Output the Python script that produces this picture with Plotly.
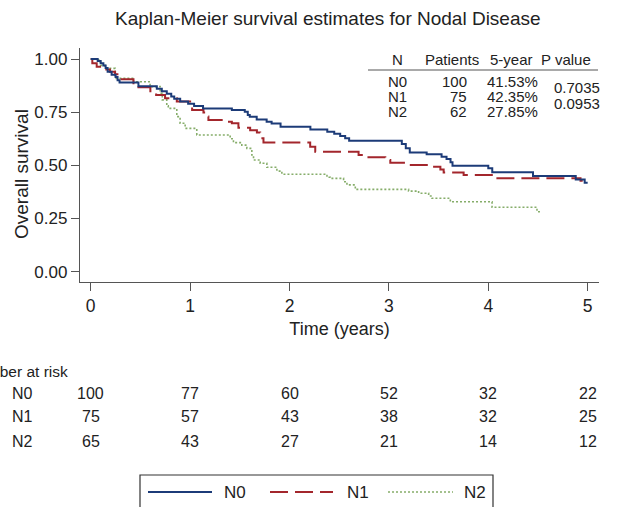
import plotly.graph_objects as go

# ---------------- data ----------------
groups = ["N0", "N1", "N2"]

n0_t = [0, 0.07, 0.10, 0.127, 0.15, 0.17, 0.21, 0.25, 0.27, 0.29, 0.48, 0.665, 0.715, 0.765,
        0.81, 0.84, 0.90, 0.98, 1.04, 1.13, 1.42, 1.55, 1.58, 1.60, 1.67, 1.77, 1.82, 1.91,
        2.21, 2.38, 2.45, 2.51, 2.56, 2.60, 3.13, 3.17, 3.21, 3.38, 3.53, 3.58, 3.62, 3.64,
        4.00, 4.04, 4.45, 4.88, 4.97, 5.00]
n0_s = [1.0, 0.99, 0.98, 0.97, 0.958, 0.94, 0.926, 0.915, 0.90, 0.89, 0.872, 0.86, 0.848, 0.837,
        0.824, 0.813, 0.80, 0.79, 0.779, 0.767, 0.76, 0.752, 0.737, 0.729, 0.716, 0.705, 0.697, 0.682,
        0.669, 0.658, 0.648, 0.638, 0.627, 0.616, 0.60, 0.58, 0.561, 0.552, 0.541, 0.53, 0.514, 0.498,
        0.486, 0.467, 0.45, 0.434, 0.418, 0.418]

n1_t = [0, 0.016, 0.06, 0.144, 0.194, 0.245, 0.295, 0.43, 0.48, 0.60, 0.658, 0.748, 0.866, 1.0,
        1.02, 1.134, 1.16, 1.184, 1.36, 1.42, 1.486, 1.604, 1.672, 1.705, 1.738, 2.208, 2.259,
        2.695, 2.755, 2.964, 3.014, 3.198, 3.417, 3.518, 3.551, 3.752, 4.054, 4.928, 4.95]
n1_s = [1.0, 0.98, 0.964, 0.951, 0.94, 0.928, 0.905, 0.886, 0.867, 0.848, 0.831, 0.815, 0.80, 0.776,
        0.76, 0.748, 0.73, 0.713, 0.705, 0.698, 0.677, 0.665, 0.655, 0.627, 0.608, 0.588, 0.564,
        0.549, 0.538, 0.525, 0.512, 0.502, 0.494, 0.48, 0.466, 0.455, 0.439, 0.428, 0.428]

n2_t = [0, 0.08, 0.10, 0.144, 0.246, 0.43, 0.597, 0.698, 0.72, 0.765, 0.78, 0.866, 0.899, 0.95,
        1.067, 1.403, 1.436, 1.52, 1.571, 1.621, 1.638, 1.705, 1.772, 1.873, 1.923, 2.377, 2.41,
        2.544, 2.578, 2.662, 3.198, 3.299, 3.40, 3.434, 3.618, 4.038, 4.49, 4.52]
n2_s = [1.0, 0.985, 0.97, 0.956, 0.909, 0.893, 0.87, 0.839, 0.808, 0.78, 0.768, 0.729, 0.698, 0.674,
        0.643, 0.625, 0.607, 0.595, 0.58, 0.549, 0.525, 0.51, 0.491, 0.473, 0.458, 0.444, 0.439,
        0.423, 0.408, 0.387, 0.379, 0.369, 0.356, 0.345, 0.329, 0.303, 0.282, 0.282]

patients = ["100", "75", "62"]
five_year = ["41.53%", "42.35%", "27.85%"]
p_values = ["0.7035", "0.0953"]

risk_times = [0, 1, 2, 3, 4, 5]
risk_n0 = [100, 77, 60, 52, 32, 22]
risk_n1 = [75, 57, 43, 38, 32, 25]
risk_n2 = [65, 43, 27, 21, 14, 12]

x_ticks = [0, 1, 2, 3, 4, 5]
y_ticks = [0, 0.25, 0.5, 0.75, 1.0]
y_tick_labels = ["0.00", "0.25", "0.50", "0.75", "1.00"]

# ---------------- styling ----------------
W, H = 618, 507
ML, MR, MT, MB = 80, 19, 48, 225
FONT = "Liberation Sans, Arial, Helvetica, sans-serif"
TXT = "#222222"
colors = {"N0": "#1c3b78", "N1": "#a3262c", "N2": "#86ad6a"}
dashes = {"N0": "solid", "N1": "18px,7px", "N2": "2px,2px"}
widths = {"N0": 2, "N1": 2, "N2": 1.6}

pw = W - ML - MR
ph = H - MT - MB


def pxp(px):
    return (px - ML) / pw


def pyp(py):
    return (H - MB - py) / ph


fig = go.Figure()
series = {"N0": (n0_t, n0_s), "N1": (n1_t, n1_s), "N2": (n2_t, n2_s)}
for g in ["N2", "N1", "N0"]:
    t, s = series[g]
    fig.add_trace(go.Scatter(x=t, y=s, mode="lines", name=g, line_shape="hv",
                             line=dict(color=colors[g], width=widths[g], dash=dashes[g]),
                             showlegend=False, hoverinfo="skip"))

annotations = []
shapes = []

# title
annotations.append(dict(text="Kaplan-Meier survival estimates for Nodal Disease", x=pxp(328), y=pyp(18),
                        xref="paper", yref="paper", showarrow=False, xanchor="center", yanchor="middle",
                        font=dict(size=19, color=TXT, family=FONT)))

# y-axis title
annotations.append(dict(text="Overall survival", x=pxp(21), y=pyp(174), xref="paper", yref="paper",
                        showarrow=False, textangle=-90, xanchor="center", yanchor="middle",
                        font=dict(size=19, color=TXT, family=FONT)))

# summary table in the plot
tbl = []
hdr_y = pyp(59)
tbl += [
    dict(text="N", x=pxp(397), y=hdr_y, xanchor="center"),
    dict(text="Patients", x=pxp(481), y=hdr_y, xanchor="right"),
    dict(text="5-year", x=pxp(535), y=hdr_y, xanchor="right"),
    dict(text="P value", x=pxp(593), y=hdr_y, xanchor="right"),
]
row_py = [81, 96, 111]
for i, g in enumerate(groups):
    yy = pyp(row_py[i])
    tbl += [
        dict(text=g, x=pxp(397), y=yy, xanchor="center"),
        dict(text=patients[i], x=pxp(469), y=yy, xanchor="right"),
        dict(text=five_year[i], x=pxp(540), y=yy, xanchor="right"),
    ]
for i, p in enumerate(p_values):
    tbl.append(dict(text=p, x=pxp(602), y=pyp(88 + 15 * i), xanchor="right"))
for a in tbl:
    a.update(xref="paper", yref="paper", showarrow=False, yanchor="middle",
             font=dict(size=15, color=TXT, family=FONT))
annotations += tbl
shapes.append(dict(type="line", xref="paper", yref="paper", x0=pxp(368), x1=pxp(598),
                   y0=pyp(70), y1=pyp(70), line=dict(color="#555555", width=1)))

# number at risk
annotations.append(dict(text="Number at risk", x=pxp(70), y=pyp(371), xref="paper", yref="paper",
                        showarrow=False, xanchor="right", yanchor="middle",
                        font=dict(size=15.5, color=TXT, family=FONT)))
risk_rows = [("N0", risk_n0, 393), ("N1", risk_n1, 416.5), ("N2", risk_n2, 441.5)]
for g, vals, py in risk_rows:
    annotations.append(dict(text=g, x=pxp(10), y=pyp(py), xref="paper", yref="paper",
                            showarrow=False, xanchor="left", yanchor="middle",
                            font=dict(size=16, color=TXT, family=FONT)))
    for t, v in zip(risk_times, vals):
        annotations.append(dict(text=str(v), x=t, y=pyp(py), xref="x", yref="paper",
                                showarrow=False, xanchor="center", yanchor="middle",
                                font=dict(size=16, color=TXT, family=FONT)))

# legend (drawn below the chart)
shapes.append(dict(type="rect", xref="paper", yref="paper", x0=pxp(140), x1=pxp(493),
                   y0=pyp(475), y1=pyp(515), line=dict(color="#333333", width=1.2),
                   fillcolor="rgba(0,0,0,0)"))
leg_items = [("N0", 148, 212, 222), ("N1", 270, 333, 345), ("N2", 388, 453, 462)]
for g, x0, x1, xt in leg_items:
    shapes.append(dict(type="line", xref="paper", yref="paper", x0=pxp(x0), x1=pxp(x1),
                       y0=pyp(492), y1=pyp(492),
                       line=dict(color=colors[g], width=widths[g], dash=dashes[g])))
    annotations.append(dict(text=g, x=pxp(xt), y=pyp(492), xref="paper", yref="paper",
                            showarrow=False, xanchor="left", yanchor="middle",
                            font=dict(size=17, color=TXT, family=FONT)))

fig.update_layout(
    width=W, height=H,
    margin=dict(l=ML, r=MR, t=MT, b=MB, autoexpand=False),
    paper_bgcolor="white", plot_bgcolor="white",
    font=dict(family=FONT, size=17, color=TXT),
    annotations=annotations, shapes=shapes,
    xaxis=dict(range=[-0.108, 5.114], tickvals=x_ticks, ticks="outside", ticklen=8,
               tickcolor="#555555", showline=True, linecolor="#555555", linewidth=1.3,
               showgrid=False, zeroline=False, tickfont=dict(size=17.5, color=TXT),
               title=dict(text="Time (years)", font=dict(size=18, color=TXT), standoff=7)),
    yaxis=dict(range=[-0.0484, 1.0517], tickvals=y_ticks, ticktext=y_tick_labels,
               ticks="outside", ticklen=8, tickcolor="#555555", showline=True,
               linecolor="#555555", linewidth=1.3, showgrid=False, zeroline=False,
               tickfont=dict(size=17, color=TXT)),
)

fig.write_html("out.html", config={"displayModeBar": False},
               post_script="document.body.style.margin='0';")
